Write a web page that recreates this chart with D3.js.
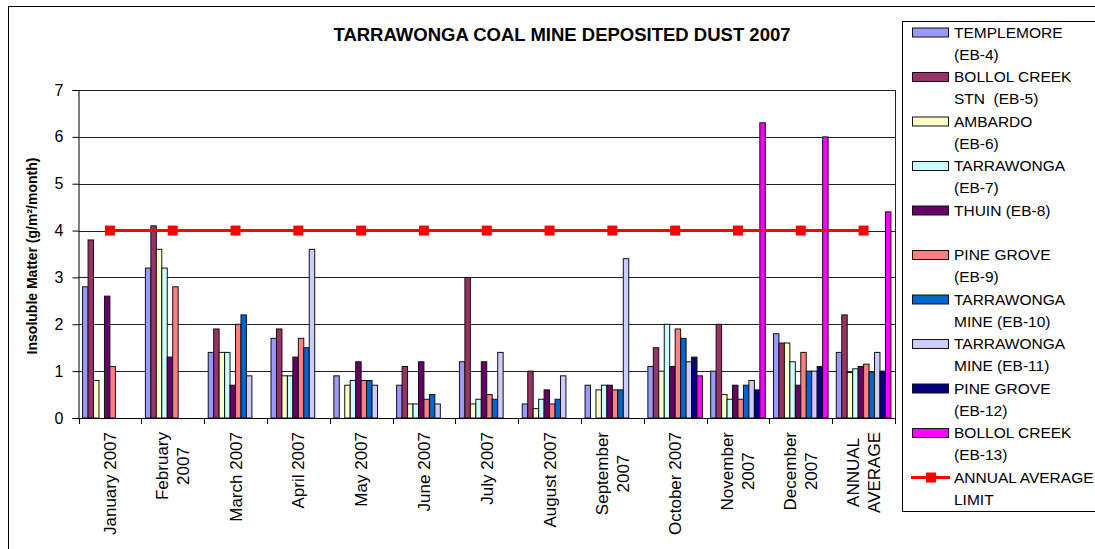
<!DOCTYPE html>
<html>
<head>
<meta charset="utf-8">
<script src="https://cdn.jsdelivr.net/npm/d3@7"></script>
<style>
  body { margin: 0; background: #fff; }
  svg { display: block; font-family: 'Liberation Sans', Arial, sans-serif; }
</style>
</head>
<body>
<svg id="chart" width="1095" height="549"></svg>
<script>
'use strict';
const CATEGORIES = [
  ['January 2007'], ['February', '2007'], ['March 2007'], ['April 2007'],
  ['May 2007'], ['June 2007'], ['July 2007'], ['August 2007'],
  ['September', '2007'], ['October 2007'], ['November', '2007'],
  ['December', '2007'], ['ANNUAL', 'AVERAGE'],
];
const SERIES_NAMES = [
  ['TEMPLEMORE', '(EB-4)'],
  ['BOLLOL CREEK', 'STN  (EB-5)'],
  ['AMBARDO', '(EB-6)'],
  ['TARRAWONGA', '(EB-7)'],
  ['THUIN (EB-8)'],
  ['PINE GROVE', '(EB-9)'],
  ['TARRAWONGA', 'MINE (EB-10)'],
  ['TARRAWONGA', 'MINE (EB-11)'],
  ['PINE GROVE', '(EB-12)'],
  ['BOLLOL CREEK', '(EB-13)'],
];
const COLORS = ['#9999ff', '#993366', '#ffffcc', '#ccffff', '#660066',
  '#ff8080', '#0066cc', '#ccccff', '#000080', '#ff00ff'];

const eb4 = [2.8, 3.2, 1.4, 1.7, 0.9, 0.7, 1.2, 0.3, 0.7, 1.1, 1.0, 1.8, 1.4];
const eb5 = [3.8, 4.1, 1.9, 1.9, null, 1.1, 3.0, 1.0, null, 1.5, 2.0, 1.6, 2.2];
const eb6 = [0.8, 3.6, 1.4, 0.9, 0.7, 0.3, 0.3, 0.2, 0.6, 1.0, 0.5, 1.6, 0.97];
const eb7 = [null, 3.2, 1.4, 0.9, 0.8, 0.3, 0.4, 0.4, 0.7, 2.0, 0.4, 1.2, 1.05];
const eb8 = [2.6, 1.3, 0.7, 1.3, 1.2, 1.2, 1.2, 0.6, 0.7, 1.1, 0.7, 0.7, 1.1];
const eb9 = [1.1, 2.8, 2.0, 1.7, 0.8, 0.4, 0.5, 0.3, 0.6, 1.9, 0.4, 1.4, 1.15];
const eb10 = [null, null, 2.2, 1.5, 0.8, 0.5, 0.4, 0.4, 0.6, 1.7, 0.7, 1.0, 0.98];
const eb11 = [null, null, 0.9, 3.6, 0.7, 0.3, 1.4, 0.9, 3.4, 1.2, 0.8, 1.0, 1.4];
const eb12 = [null, null, null, null, null, null, null, null, null, 1.3, 0.6, 1.1, 1.0];
const eb13 = [null, null, null, null, null, null, null, null, null, 0.9, 6.3, 6.0, 4.4];
const limit = [4, 4, 4, 4, 4, 4, 4, 4, 4, 4, 4, 4, 4];
const Y_TICKS = [0, 1, 2, 3, 4, 5, 6, 7];

const SERIES = [eb4, eb5, eb6, eb7, eb8, eb9, eb10, eb11, eb12, eb13];

const svg = d3.select('#chart');
const plot = { left: 78.5, right: 895, top: 90, bottom: 418 };

// outer chart frame and legend frame
svg.append('rect')
  .attr('x', 8.5).attr('y', 6.5).attr('width', 1100).attr('height', 560)
  .attr('fill', '#fff').attr('stroke', '#000');
svg.append('rect')
  .attr('x', 902.5).attr('y', 21.5).attr('width', 200).attr('height', 490)
  .attr('fill', '#fff').attr('stroke', '#000');

// title
svg.append('text')
  .attr('x', 562).attr('y', 41)
  .attr('text-anchor', 'middle')
  .attr('font-size', 18.5).attr('font-weight', 'bold')
  .text('TARRAWONGA COAL MINE DEPOSITED DUST 2007');

const x = d3.scaleBand()
  .domain(d3.range(CATEGORIES.length))
  .range([plot.left, plot.right]);
const xs = d3.scaleBand()
  .domain(d3.range(SERIES.length))
  .range([0, x.bandwidth()])
  .paddingInner(0).paddingOuter(0.75);
const y = d3.scaleLinear().domain([0, 7]).range([plot.bottom, plot.top]);

// gridlines
svg.append('g')
  .selectAll('line')
  .data(Y_TICKS.slice(1))
  .enter()
  .append('line')
  .attr('x1', plot.left).attr('x2', plot.right)
  .attr('y1', (d) => Math.round(y(d)) + 0.5)
  .attr('y2', (d) => Math.round(y(d)) + 0.5)
  .attr('stroke', '#222');
svg.append('line')
  .attr('x1', plot.right + 0.5).attr('x2', plot.right + 0.5)
  .attr('y1', plot.top).attr('y2', plot.bottom)
  .attr('stroke', '#222');

// bars
SERIES.forEach((vals, s) => {
  svg.append('g')
    .selectAll('rect')
    .data(vals.map((v, i) => ({ v, i })).filter((d) => d.v !== null))
    .enter()
    .append('rect')
    .attr('x', (d) => x(d.i) + xs(s))
    .attr('y', (d) => y(d.v))
    .attr('width', xs.bandwidth())
    .attr('height', (d) => y(0) - y(d.v))
    .attr('fill', COLORS[s])
    .attr('stroke', '#111')
    .attr('stroke-width', 1);
});

// limit line
const cx = (i) => x(i) + x.bandwidth() / 2;
svg.append('path')
  .datum(limit)
  .attr('fill', 'none')
  .attr('stroke', '#ff0000')
  .attr('stroke-width', 3)
  .attr('d', d3.line().x((d, i) => cx(i)).y((d) => y(d)));
svg.append('g')
  .selectAll('rect')
  .data(limit)
  .enter()
  .append('rect')
  .attr('x', (d, i) => cx(i) - 5)
  .attr('y', (d) => y(d) - 5)
  .attr('width', 10).attr('height', 10)
  .attr('fill', '#ff0000');

// y axis
const yAxis = svg.append('g')
  .attr('transform', `translate(${plot.left},0)`)
  .call(d3.axisLeft(y).tickValues(Y_TICKS).tickFormat(d3.format('d'))
    .tickSize(6).tickPadding(9));
yAxis.selectAll('path, line').attr('stroke', '#000');
yAxis.selectAll('text')
  .attr('font-family', 'Liberation Sans, Arial, sans-serif')
  .attr('font-size', 16).attr('fill', '#000');

// x axis
const xAxisG = svg.append('g')
  .attr('transform', `translate(0,${plot.bottom})`);
xAxisG.append('line')
  .attr('x1', plot.left).attr('x2', plot.right)
  .attr('y1', 0.5).attr('y2', 0.5)
  .attr('stroke', '#000');
xAxisG.selectAll('line.tick')
  .data(d3.range(CATEGORIES.length + 1))
  .enter()
  .append('line')
  .attr('class', 'tick')
  .attr('x1', (d) => Math.round(plot.left + d * x.step()) + 0.5)
  .attr('x2', (d) => Math.round(plot.left + d * x.step()) + 0.5)
  .attr('y1', 0).attr('y2', 6)
  .attr('stroke', '#000');

// rotated category labels, top-aligned, lines centred
const LINE_GAP = 21;
CATEGORIES.forEach((lines, i) => {
  const g = svg.append('g');
  const texts = lines.map((ln) =>
    g.append('text')
      .attr('font-size', 17)
      .attr('text-anchor', 'middle')
      .text(ln)
  );
  const maxLen = d3.max(texts, (t) => t.node().getComputedTextLength());
  const yc = plot.bottom + 14 + maxLen / 2;
  texts.forEach((t, k) => {
    const off = (k - (lines.length - 1) / 2) * LINE_GAP;
    const xx = cx(i) + off + 6;
    t.attr('transform', `translate(${xx},${yc}) rotate(-90)`);
  });
});

// y title
svg.append('text')
  .attr('transform', 'translate(37,256) rotate(-90)')
  .attr('text-anchor', 'middle')
  .attr('font-size', 14).attr('font-weight', 'bold')
  .text('Insoluble Matter (g/m²/month)');

// legend
const legend = svg.append('g');
const ITEM_H = 44.5;
SERIES_NAMES.forEach((lines, i) => {
  const top = 32.5 + i * ITEM_H;
  legend.append('rect')
    .attr('x', 912.5).attr('y', top - 4.5)
    .attr('width', 36).attr('height', 9)
    .attr('fill', COLORS[i]).attr('stroke', '#111');
  lines.forEach((ln, k) => {
    legend.append('text')
      .attr('x', 954).attr('y', top + 5 + k * 22)
      .attr('font-size', 15.5)
      .style('white-space', 'pre')
      .text(ln);
  });
});
const lTop = 32.5 + 10 * ITEM_H;
legend.append('line')
  .attr('x1', 911).attr('x2', 950)
  .attr('y1', lTop).attr('y2', lTop)
  .attr('stroke', '#ff0000').attr('stroke-width', 3);
legend.append('rect')
  .attr('x', 926).attr('y', lTop - 5).attr('width', 10).attr('height', 10)
  .attr('fill', '#ff0000');
['ANNUAL AVERAGE', 'LIMIT'].forEach((ln, k) => {
  legend.append('text')
    .attr('x', 954).attr('y', lTop + 5 + k * 22)
    .attr('font-size', 15.5)
    .text(ln);
});
</script>
</body>
</html>
